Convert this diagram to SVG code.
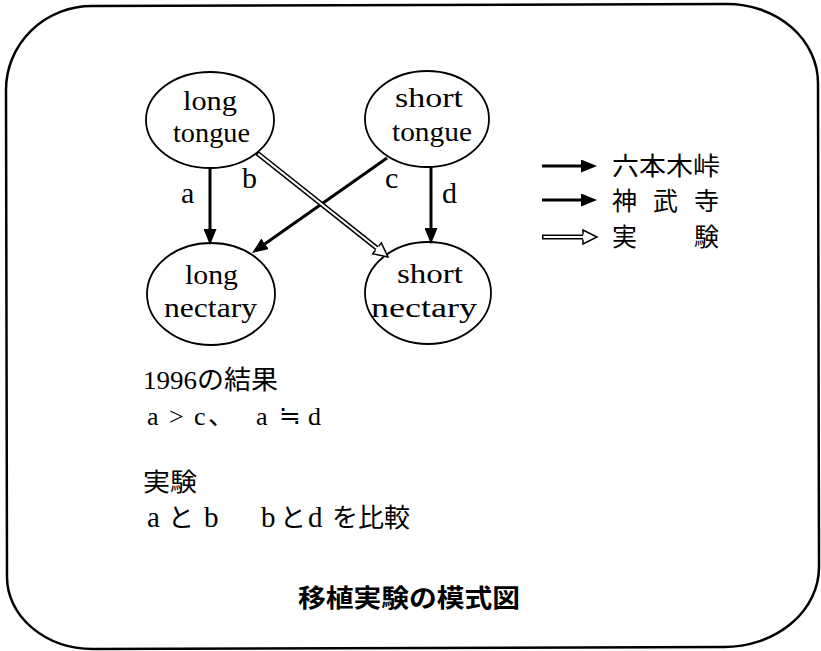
<svg xmlns="http://www.w3.org/2000/svg" width="821" height="651" viewBox="0 0 821 651">
<defs>
<style>
.frame{fill:none;stroke:#000;stroke-width:2.5}
.node{fill:#fff;stroke:#000;stroke-width:1.8}
.lbl{font-family:"Liberation Serif","Noto Sans CJK JP",serif;font-size:27px;fill:#000}
.edge{font-family:"Liberation Serif",serif;font-size:30px;fill:#000}
.cjk{font-family:"Noto Sans CJK JP",sans-serif;font-size:25px;fill:#000}
.mix{font-family:"Liberation Serif","Noto Sans CJK JP",serif;font-size:26px;fill:#000}
.title{font-family:"Noto Sans CJK JP",sans-serif;font-size:25px;font-weight:700;fill:#000}
.solid{fill:none;stroke:#000;stroke-width:3;marker-end:url(#head)}
.outer{fill:none;stroke:#000;stroke-width:5}
.inner{fill:none;stroke:#fff;stroke-width:2;marker-end:url(#hollow)}
</style>
<marker id="head" markerUnits="userSpaceOnUse" markerWidth="16" markerHeight="13" viewBox="0 0 16 13" refX="10" refY="6.5" orient="auto">
<path d="M0,0 L16,6.5 L0,13 Z" fill="#000"/>
</marker>
<marker id="hollow" markerUnits="userSpaceOnUse" markerWidth="15" markerHeight="14" viewBox="0 0 15 14" refX="0" refY="7" orient="auto" overflow="visible">
<path d="M0,4.5 L0,0 L14,7 L0,14 L0,9.5" fill="#fff" stroke="#000" stroke-width="1.5"/>
</marker>
</defs>
<rect width="821" height="651" fill="#fff"/>
<path class="frame" d="M92,6 L727,4 A91,79 0 0 1 818,83 L819,567 A95,80 0 0 1 724,647 L93,649 A86,72 0 0 1 7,577 L6,90 A86,84 0 0 1 92,6 Z"/>

<g id="long-tongue">
<ellipse class="node" cx="210" cy="120" rx="64" ry="48"/>
<text class="lbl" x="183" y="110" textLength="54" lengthAdjust="spacingAndGlyphs">long</text>
<text class="lbl" x="173" y="142" textLength="77" lengthAdjust="spacingAndGlyphs">tongue</text>
</g>
<g id="short-tongue">
<ellipse class="node" cx="427" cy="119" rx="62" ry="48"/>
<text class="lbl" x="395" y="107" textLength="68" lengthAdjust="spacingAndGlyphs">short</text>
<text class="lbl" x="392" y="141" textLength="80" lengthAdjust="spacingAndGlyphs">tongue</text>
</g>
<g id="long-nectary">
<ellipse class="node" cx="211" cy="294" rx="64" ry="51"/>
<text class="lbl" x="185" y="284" textLength="53" lengthAdjust="spacingAndGlyphs">long</text>
<text class="lbl" x="164" y="317" textLength="93" lengthAdjust="spacingAndGlyphs">nectary</text>
</g>
<g id="short-nectary">
<ellipse class="node" cx="428" cy="293" rx="63" ry="51"/>
<text class="lbl" x="397" y="283" textLength="66" lengthAdjust="spacingAndGlyphs">short</text>
<text class="lbl" x="371" y="317" textLength="106" lengthAdjust="spacingAndGlyphs">nectary</text>
</g>

<g id="connectors">
<line class="solid" x1="210" y1="168" x2="210" y2="239"/>
<line class="solid" x1="431" y1="167" x2="431" y2="238"/>
<line class="solid" x1="387" y1="158" x2="256.9" y2="249.6"/>
<line class="outer" x1="257" y1="153" x2="377" y2="248.3"/>
<line class="inner" x1="258.2" y1="153.9" x2="377" y2="248.3"/>
<text class="edge" x="181" y="203">a</text>
<text class="edge" x="242" y="188">b</text>
<text class="edge" x="385" y="188">c</text>
<text class="edge" x="442" y="203">d</text>
</g>

<g id="legend">
<line class="solid" x1="542" y1="166" x2="591" y2="166"/>
<text class="cjk" x="612" y="175" textLength="108" lengthAdjust="spacingAndGlyphs">六本木峠</text>
<line class="solid" x1="542" y1="200" x2="591" y2="200"/>
<text class="cjk" x="612 640 653 681 694" y="210">神 武 寺</text>
<line class="outer" x1="542" y1="237" x2="583" y2="237"/>
<line class="inner" x1="543.5" y1="237" x2="583" y2="237"/>
<text class="cjk" x="612 640 694" y="246">実 験</text>
</g>

<g id="notes">
<text class="mix" x="143" y="389" textLength="135" lengthAdjust="spacingAndGlyphs">1996の結果</text>
<text class="mix" font-size="29" x="147 160 169 185 194 208 236 256 270 279 297 308" y="425">a &gt; c、 a ≒ d</text>
<text class="cjk" x="143" y="491" textLength="54" lengthAdjust="spacingAndGlyphs">実験</text>
<text class="mix" x="147 168 204 230 261 280 308 332 358 384" y="527"><tspan font-size="29">a</tspan>と<tspan font-size="29">b</tspan> <tspan font-size="29">b</tspan>と<tspan font-size="29">d</tspan>を比較</text>
</g>

<g id="caption">
<text class="title" x="298" y="607" textLength="222" lengthAdjust="spacingAndGlyphs">移植実験の模式図</text>
</g>
</svg>
